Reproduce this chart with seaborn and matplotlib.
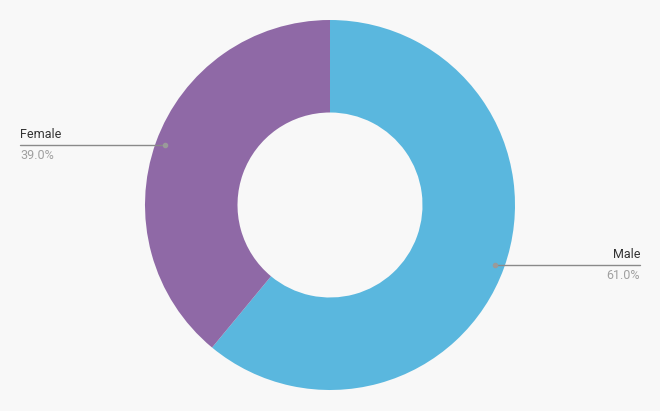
import matplotlib.pyplot as plt
import numpy as np
import seaborn as sns

etiquetas = ["Male", "Female"]
valores = [61.0, 39.0]
cores = ["#5AB7DE", "#8F69A6"]

sns.set_theme(style="white")
plt.rcParams["font.family"] = ["Roboto", "DejaVu Sans"]

fundo = "#F8F8F8"
fig = plt.figure(figsize=(6.6, 4.11), dpi=100, facecolor=fundo)
ax = fig.add_axes([0, 0, 1, 1], facecolor=fundo)

fatias, _ = ax.pie(
    valores,
    colors=cores,
    startangle=90,
    counterclock=False,
    radius=1.0,
    wedgeprops={"width": 0.5, "linewidth": 0},
)

# limites depois do pie, que redefine os eixos
escala = 185.0  # pixels por unidade do raio
ax.set_xlim(-330 / escala, 330 / escala)
ax.set_ylim(-206 / escala, 205 / escala)
ax.set_aspect("equal")
ax.axis("off")

margem = 310 / escala
for fatia, nome, valor in zip(fatias, etiquetas, valores):
    meio = np.deg2rad((fatia.theta1 + fatia.theta2) / 2)
    px, py = 0.95 * np.cos(meio), 0.95 * np.sin(meio)
    if px < 0:
        xfim, alinh = -margem, "left"
    else:
        xfim, alinh = margem, "right"
    ax.plot([px, xfim], [py, py], color="#8a8a8a", linewidth=1.0, zorder=3)
    ax.plot(px, py, "o", color="#9a9a9a", markersize=3, zorder=4)
    ax.text(xfim, py + 4 / escala, nome, ha=alinh, va="bottom",
            fontsize=9, color="#333333")
    ax.text(xfim, py - 4 / escala, f"{valor:.1f}%", ha=alinh, va="top",
            fontsize=9, color="#a0a0a0")

fig.savefig("out.png", dpi=100, facecolor=fundo)
